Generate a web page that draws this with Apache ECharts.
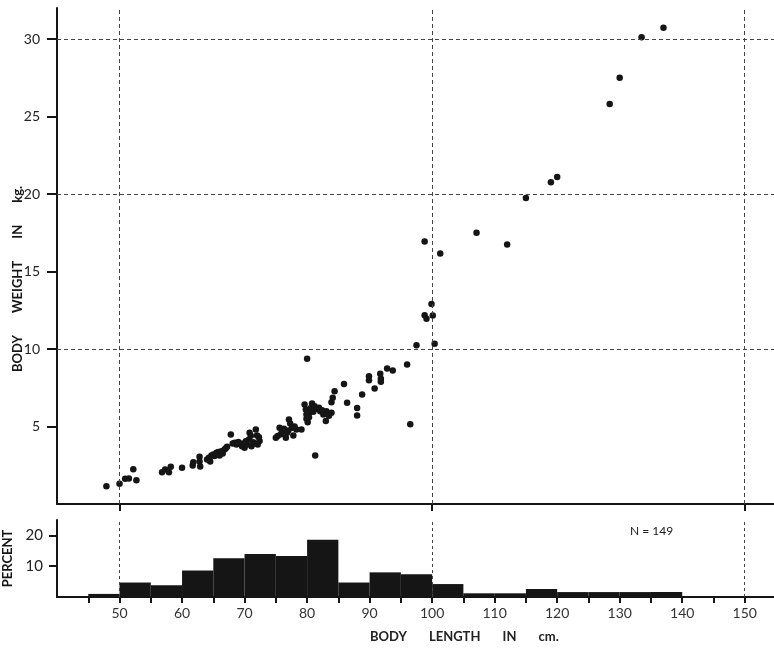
<!DOCTYPE html>
<html>
<head>
<meta charset="utf-8">
<script src="https://cdn.jsdelivr.net/npm/echarts@6/dist/echarts.min.js"></script>
<style>
html,body{margin:0;padding:0;background:#fff;}
#chart{width:774px;height:648px;}
</style>
</head>
<body>
<div id="chart"></div>
<script>
// body length (cm) and body weight (kg) for each fish
var bodyLength = [47.9,50.0,50.9,51.5,52.2,52.7,56.8,57.3,57.9,58.2,60.0,61.7,61.8,62.8,62.8,62.9,
    64.0,64.3,64.7,65.2,65.5,66.0,66.3,66.5,66.8,67.2,67.8,68.1,68.7,69.2,69.6,70.0,70.4,70.7,70.8,
    71.1,71.4,71.8,72.0,72.1,72.4,75.0,75.3,75.6,76.0,76.6,76.8,77.1,77.3,77.6,77.8,78.3,79.1,
    79.6,79.8,79.9,79.9,80.1,80.4,80.8,81.2,81.5,81.9,82.1,82.6,83.0,83.1,83.9,83.9,84.1,84.4,
    80.0,81.3,85.9,86.4,88.0,88.0,88.8,89.9,89.9,90.8,91.7,91.8,91.8,92.8,93.7,96.0,96.5,
    97.5,98.8,99.1,99.9,100.1,100.4,98.8,101.3,107.1,112.0,115.0,119.0,120.0,128.4,130.0,133.5,137.0,
    64.5,65.0,65.8,67.0,68.4,69.0,69.8,70.2,71.0,71.6,72.3,75.8,76.3,77.0,78.0,80.0,80.3,80.6,81.0,82.4,83.5];
var bodyWeight = [1.15,1.30,1.63,1.65,2.25,1.54,2.05,2.23,2.05,2.40,2.34,2.48,2.70,3.05,2.75,2.42,
    2.87,2.98,3.13,3.09,3.30,3.13,3.41,3.26,3.52,3.69,4.49,3.91,3.84,3.91,3.73,3.63,3.84,4.16,4.59,
    3.73,3.99,4.81,4.42,3.84,4.06,4.27,4.38,4.92,4.70,4.27,4.59,5.45,5.20,4.92,4.42,4.81,4.81,
    6.42,6.10,5.78,5.50,5.28,5.88,6.49,6.31,6.14,6.21,5.99,5.78,5.35,5.99,5.88,6.57,6.85,7.28,
    9.37,3.13,7.75,6.53,6.20,5.71,7.06,8.25,7.99,7.45,8.40,8.08,7.88,8.74,8.61,9.00,5.15,
    10.25,12.18,11.95,12.90,12.16,10.34,16.94,16.16,17.50,16.74,19.75,20.76,21.10,25.80,27.50,30.12,30.72,
    2.75,3.20,3.35,3.60,3.95,4.00,3.90,4.05,4.40,3.90,4.30,4.50,4.85,4.75,5.00,6.00,5.60,6.20,5.95,6.05,5.70];

// length-frequency histogram, 5 cm classes
var binStart = [45,50,55,60,65,70,75,80,85,90,95,100,105,110,115,120,125,130,135];
var binWidth = 5;
var binPercent = [1.0,4.7,3.8,8.6,12.6,14.0,13.3,18.6,4.7,8.0,7.4,4.2,1.2,1.2,2.6,1.6,1.6,1.6,1.6];

var weightTicks = [5,10,15,20,25,30];
var weightGrid = [10,20,30];
var lengthGrid = [50,100,150];
var lengthTicks = [45,50,55,60,65,70,75,80,85,90,95,100,105,110,115,120,125,130,135,140,145,150];
var lengthLabels = [50,60,70,80,90,100,110,120,130,140,150];
var percentTicks = [10,20];

var points = [];
for (var i = 0; i < bodyLength.length; i++) {
    points.push([bodyLength[i], bodyWeight[i]]);
}
var bars = [];
for (var j = 0; j < binStart.length; j++) {
    bars.push([binStart[j], binStart[j] + binWidth, binPercent[j]]);
}

var font = 'Lato';
var ink = '#151515';

var topLines = [];
lengthGrid.forEach(function (v) { topLines.push({xAxis: v}); });
weightGrid.forEach(function (v) { topLines.push({yAxis: v}); });
var histLines = lengthGrid.map(function (v) { return {xAxis: v}; });

var myChart = echarts.init(document.getElementById('chart'));

var option = {
    animation: false,
    backgroundColor: '#fff',
    grid: [
        {left: 57, top: 8, width: 719, height: 496, outerBoundsMode: 'none'},
        {left: 57, top: 520, width: 719, height: 77, outerBoundsMode: 'none'}
    ],
    xAxis: [
        {
            type: 'value', gridIndex: 0, min: 40, max: 155, interval: 5,
            axisLine: {lineStyle: {color: ink, width: 2}},
            axisTick: {show: true, length: 7, customValues: lengthGrid, lineStyle: {color: ink, width: 2}},
            axisLabel: {show: false},
            splitLine: {show: false}
        },
        {
            type: 'value', gridIndex: 1, min: 40, max: 155, interval: 5,
            axisLine: {lineStyle: {color: ink, width: 2}},
            axisTick: {show: true, length: 6, customValues: lengthTicks, lineStyle: {color: ink, width: 2}},
            axisLabel: {customValues: lengthLabels, margin: 9, color: '#333', fontFamily: font, fontSize: 14},
            splitLine: {show: false}
        }
    ],
    yAxis: [
        {
            type: 'value', gridIndex: 0, min: 0, max: 32, interval: 5,
            axisLine: {lineStyle: {color: ink, width: 2}},
            axisTick: {length: 10, customValues: weightTicks, lineStyle: {color: ink, width: 2}},
            axisLabel: {customValues: weightTicks, margin: 17, color: '#222', fontFamily: font, fontSize: 14},
            splitLine: {show: false}
        },
        {
            type: 'value', gridIndex: 1, min: 0, max: 25, interval: 5,
            name: 'PERCENT',
            nameLocation: 'middle', nameGap: 27,
            nameTextStyle: {color: ink, fontFamily: font, fontSize: 13, fontWeight: 'bold'},
            axisLine: {lineStyle: {color: ink, width: 2}},
            axisTick: {length: 8, customValues: percentTicks, lineStyle: {color: ink, width: 2}},
            axisLabel: {customValues: percentTicks, margin: 14, color: '#222', fontFamily: font, fontSize: 15},
            splitLine: {show: false}
        }
    ],
    series: [
        {
            type: 'scatter', xAxisIndex: 0, yAxisIndex: 0,
            data: points,
            symbolSize: 6.5,
            itemStyle: {color: ink, opacity: 1},
            markLine: {
                silent: true, symbol: ['none', 'none'], label: {show: false},
                lineStyle: {color: '#444', width: 1, type: [4, 3]},
                data: topLines
            }
        },
        {
            type: 'custom', xAxisIndex: 1, yAxisIndex: 1,
            data: bars,
            renderItem: function (params, api) {
                var p0 = api.coord([api.value(0), api.value(2)]);
                var p1 = api.coord([api.value(1), 0]);
                return {
                    type: 'rect',
                    shape: {x: p0[0], y: p0[1], width: p1[0] - p0[0], height: p1[1] - p0[1]},
                    style: {fill: ink}
                };
            }
        },
        {
            type: 'line', xAxisIndex: 1, yAxisIndex: 1,
            data: [],
            markLine: {
                silent: true, symbol: ['none', 'none'], label: {show: false},
                lineStyle: {color: '#444', width: 1, type: [3, 3]},
                data: histLines
            }
        }
    ],
    graphic: [
        {
            type: 'text', x: 11, y: 372, rotation: Math.PI / 2,
            style: {text: 'BODY       WEIGHT       IN       kg.', fill: ink, font: 'bold 13px Lato'}
        },
        {
            type: 'text', left: 630, top: 525,
            style: {text: 'N = 149', fill: '#222', font: '12px Lato'}
        },
        {
            type: 'text', left: 370, top: 630,
            style: {text: 'BODY       LENGTH       IN       cm.', fill: '#222', font: 'bold 13px Lato'}
        }
    ]
};
myChart.setOption(option);
</script>
</body>
</html>
